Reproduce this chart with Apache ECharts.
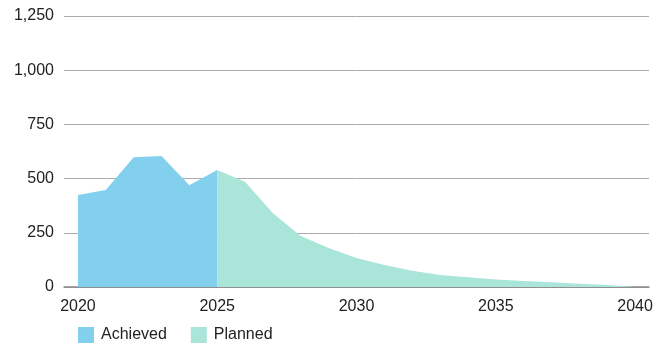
<!DOCTYPE html>
<html>
<head>
<meta charset="utf-8">
<script src="https://cdn.jsdelivr.net/npm/echarts@6/dist/echarts.min.js"></script>
<style>
  html, body { margin: 0; padding: 0; background: #fff; }
  #chart { width: 670px; height: 347px; }
</style>
</head>
<body>
<div id="chart"></div>
<script>
// years on the x axis
const years = []
for (let y = 2020; y <= 2040; y++) years.push(String(y))

// values
const achieved = [424, 447, 598, 604, 469, 540]
const planned = [540, 486, 340, 235, 180, 134, 101, 75, 55, 45, 35, 28, 22, 15, 9, 0]

const yTicks = [0, 250, 500, 750, 1000, 1250]

const FONT = '"Liberation Sans", Arial, sans-serif'

// pad the series out to the full year range
let achievedData = achieved.concat(new Array(years.length - achieved.length).fill(null))
let plannedData = new Array(years.length - planned.length).fill(null).concat(planned)

let chart = echarts.init(document.getElementById('chart'))

chart.setOption({
  animation: false,
  grid: { left: 64, right: 21, top: 16, bottom: 60 },
  legend: {
    left: 73,
    top: 322,
    icon: 'rect',
    itemWidth: 16,
    itemHeight: 16,
    itemGap: 24,
    textStyle: { fontFamily: FONT, fontSize: 16, color: '#222', padding: [2, 0, 0, 2] },
    data: ['Achieved', 'Planned']
  },
  xAxis: {
    type: 'category',
    data: years,
    boundaryGap: true,
    axisLine: { lineStyle: { color: '#888', width: 1.5 } },
    axisTick: { show: false },
    axisLabel: {
      interval: 4,
      fontFamily: FONT,
      fontSize: 16,
      color: '#222',
      margin: 12
    }
  },
  yAxis: {
    type: 'value',
    min: yTicks[0],
    max: yTicks[yTicks.length - 1],
    interval: 250,
    axisLine: { show: false },
    axisTick: { show: false },
    splitLine: { lineStyle: { color: '#aaa', width: 1 } },
    axisLabel: {
      fontFamily: FONT,
      fontSize: 16,
      color: '#222',
      margin: 10,
      formatter: v => v.toLocaleString('en-US')
    }
  },
  series: [
    {
      name: 'Achieved',
      type: 'line',
      data: achievedData,
      symbol: 'none',
      lineStyle: { width: 0 },
      itemStyle: { color: '#82d0ee' },
      areaStyle: { color: '#82d0ee', opacity: 1 }
    },
    {
      name: 'Planned',
      type: 'line',
      data: plannedData,
      symbol: 'none',
      lineStyle: { width: 0 },
      itemStyle: { color: '#aae5da' },
      areaStyle: { color: '#aae5da', opacity: 1 }
    }
  ]
})
</script>
</body>
</html>
